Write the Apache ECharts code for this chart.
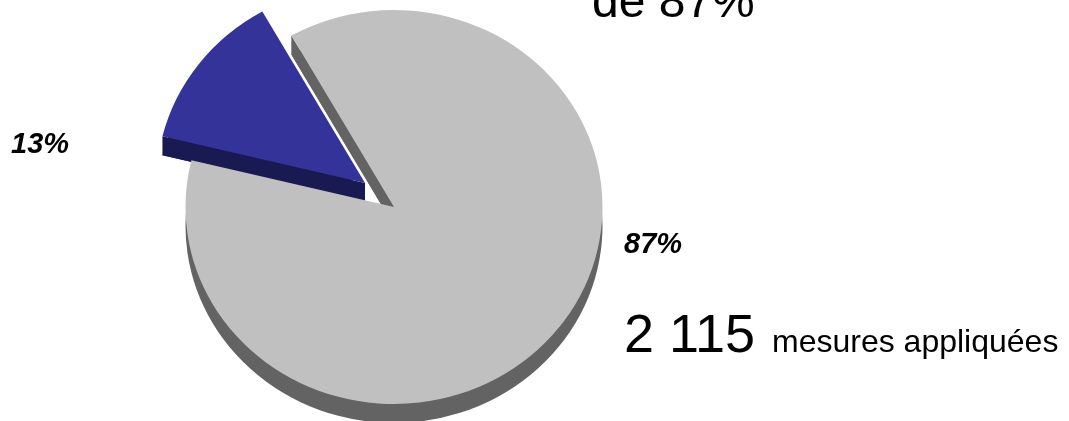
<!DOCTYPE html>
<html>
<head>
<meta charset="utf-8">
<style>
  html, body { margin: 0; padding: 0; background: #fff; }
  #chart { width: 1069px; height: 421px; }
</style>
<script src="https://cdn.jsdelivr.net/npm/echarts@6/dist/echarts.min.js"></script>
</head>
<body>
<div id="chart"></div>
<script>
// Data
const sliceNames = ['Non appliquées', 'Appliquées'];
const sliceValues = [13, 87];
const titleText = 'de 87%';
const countText = '2 115';
const countUnit = 'mesures appliquées';

// Pie look
const sliceColors = ['#333399', '#c0c0c0'];
const sideColors = ['#1a1a52', '#636363'];
const sliceCenters = [[365, 183], [394, 207]];
const radiusX = 208.5;
const radiusY = 197;
const depth = 19;
const firstAngle = -76.3; // degrees, clockwise from 12 o'clock

const total = sliceValues.reduce((a, b) => a + b, 0);

function sliceAngles(index) {
    let start = firstAngle;
    for (let i = 0; i < index; i++) {
        start += sliceValues[i] / total * 360;
    }
    return [start, start + sliceValues[index] / total * 360];
}

function sector(cx, cy, angles, color, z2) {
    return {
        type: 'sector',
        x: cx,
        y: cy,
        scaleY: radiusY / radiusX,
        z2: z2,
        shape: {
            cx: 0,
            cy: 0,
            r: radiusX,
            startAngle: (angles[0] - 90) * Math.PI / 180,
            endAngle: (angles[1] - 90) * Math.PI / 180,
            clockwise: true
        },
        style: { fill: color }
    };
}

function renderSlice(params, api) {
    const index = api.value(0);
    const angles = sliceAngles(index);
    const cx = sliceCenters[index][0];
    const cy = sliceCenters[index][1];
    const rad = angles[0] * Math.PI / 180;
    const ex = cx + radiusX * Math.sin(rad);
    const ey = cy - radiusY * Math.cos(rad);
    // the blue side goes under the grey top, the blue top goes over everything
    const sideZ = index === 0 ? 1 : 2;
    const topZ = index === 0 ? 4 : 3;
    return {
        type: 'group',
        children: [
            sector(cx, cy + depth, angles, sideColors[index], sideZ),
            {
                type: 'polygon',
                z2: sideZ,
                shape: { points: [[cx, cy], [ex, ey], [ex, ey + depth], [cx, cy + depth]] },
                style: { fill: sideColors[index] }
            },
            sector(cx, cy, angles, sliceColors[index], topZ)
        ]
    };
}

function pageText(x, y, text, font) {
    return {
        type: 'text',
        x: x,
        y: y,
        silent: true,
        style: { text: text, fill: '#000', font: font + ' "Liberation Sans", Arial, sans-serif' }
    };
}

const chart = echarts.init(document.getElementById('chart'));

chart.setOption({
    animation: false,
    series: [{
        type: 'custom',
        coordinateSystem: 'none',
        silent: true,
        data: sliceValues.map((v, i) => ({ name: sliceNames[i], value: [i, v] })),
        renderItem: renderSlice
    }],
    graphic: [
        pageText(592, -20, titleText, '48px'),
        pageText(624, 310, countText, '54px'),
        pageText(772, 327, countUnit, '32px'),
        pageText(11, 130, sliceValues[0] + '%', 'italic bold 29px'),
        pageText(624, 230, sliceValues[1] + '%', 'italic bold 29px')
    ]
});

window.addEventListener('resize', function() {
    chart.resize();
});
</script>
</body>
</html>
